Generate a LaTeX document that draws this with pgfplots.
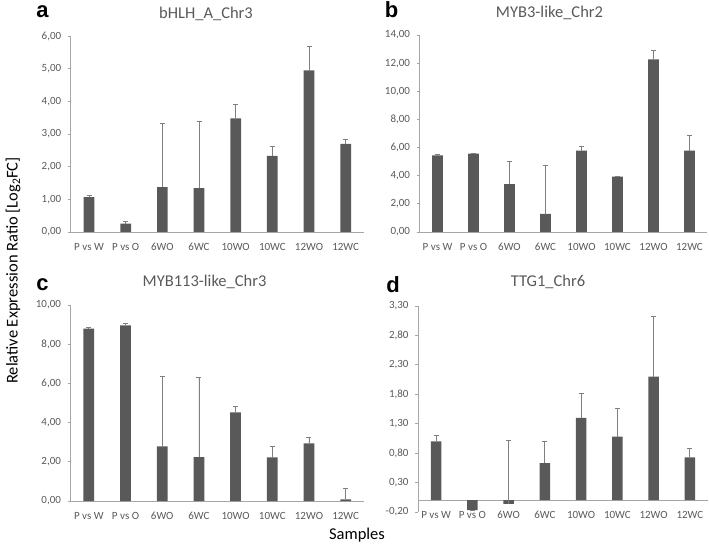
\documentclass[border=0pt]{standalone}
\usepackage{pgfplots}
\pgfplotsset{compat=1.18}
\usepackage{fontspec}
\setmainfont{Carlito}
\newfontfamily\arialfont{Liberation Sans}
\definecolor{bargray}{HTML}{595959}
\definecolor{errgray}{HTML}{7F7F7F}
\definecolor{axgray}{HTML}{A6A6A6}
\definecolor{txtgray}{HTML}{595959}

\pgfplotstableread{
x y e
0 1.07 0.05
1 0.26 0.05
2 1.37 1.94
3 1.34 2.06
4 3.48 0.43
5 2.33 0.29
6 4.95 0.73
7 2.70 0.14
}\dataA
\pgfplotstableread{
x y e
0 5.44 0.05
1 5.57 0.04
2 3.40 1.64
3 1.28 3.43
4 5.79 0.28
5 3.93 0.04
6 12.27 0.66
7 5.79 1.09
}\dataB
\pgfplotstableread{
x y e
0 8.79 0.09
1 8.96 0.10
2 2.79 3.57
3 2.24 4.09
4 4.52 0.31
5 2.23 0.56
6 2.94 0.31
7 0.08 0.57
}\dataC
\pgfplotstableread{
x y e
0 1.00 0.10
1 -0.17 0.00
2 -0.06 1.08
3 0.63 0.37
4 1.40 0.41
5 1.08 0.48
6 2.10 1.03
7 0.73 0.15
}\dataD

\pgfplotsset{
  panel/.style={
    scale only axis,
    anchor=south west,
    ybar, bar width=10.7pt,
    xmin=-0.5, xmax=7.5,
    xtick={0,...,7},
    xticklabels={P vs W, P vs O, 6WO, 6WC, 10WO, 10WC, 12WO, 12WC},
    axis y line*=left,
    axis line style={axgray, line width=0.8pt},
    x tick style={draw=none},
    y tick style={axgray, line width=0.8pt},
    major tick length=3pt,
    tick align=outside,
    ticklabel style={font=\fontsize{11}{13}\selectfont, text=txtgray},
    xticklabel style={yshift=-4.5pt},
    yticklabel style={xshift=-3pt, /pgf/number format/.cd, fixed, fixed zerofill, precision=2, use comma, assume math mode=true},
    clip=false,
  },
  mybar/.style={fill=bargray, draw=none,
    error bars/.cd, y dir=plus, y explicit,
    error bar style={errgray, line width=0.8pt},
    error mark options={rotate=90, errgray, mark size=2.5pt, line width=0.8pt}},
}

\begin{document}
\begin{tikzpicture}
\useasboundingbox (0,0) rectangle (709pt,549pt);

% a
\begin{axis}[panel, axis x line*=bottom, at={(70.7pt,317pt)}, width=293.3pt, height=196pt,
  ymin=0, ymax=6, ytick={0,1,...,6}]
\addplot[mybar] table[x=x, y=y, y error=e] {\dataA};
\end{axis}

% b
\begin{axis}[panel, axis x line*=bottom, at={(419.5pt,317pt)}, width=288pt, height=197pt,
  ymin=0, ymax=14, ytick={0,2,...,14}]
\addplot[mybar] table[x=x, y=y, y error=e] {\dataB};
\end{axis}

% c
\begin{axis}[panel, axis x line*=bottom, at={(70.5pt,48pt)}, width=293.5pt, height=196pt,
  ymin=0, ymax=10, ytick={0,2,...,10}]
\addplot[mybar] table[x=x, y=y, y error=e] {\dataC};
\end{axis}

% d
\begin{axis}[panel, axis x line*=middle, at={(418pt,37pt)}, width=290pt, height=206pt,
  ymin=-0.2, ymax=3.3, ytick={-0.2,0.3,0.8,1.3,1.8,2.3,2.8,3.3}]
\addplot[mybar] table[x=x, y=y, y error=e] {\dataD};
\end{axis}

% titles
\node[text=txtgray, font=\fontsize{16.5}{19}\selectfont] at (206pt,535.5pt) {bHLH\_A\_Chr3};
\node[text=txtgray, font=\fontsize{16.5}{19}\selectfont] at (549.5pt,536pt) {MYB3-like\_Chr2};
\node[text=txtgray, font=\fontsize{16.5}{19}\selectfont] at (204.6pt,267pt) {MYB113-like\_Chr3};
\node[text=txtgray, font=\fontsize{16.5}{19}\selectfont] at (548pt,267pt) {TTG1\_Chr6};

% panel letters
\node[font=\arialfont\bfseries\fontsize{22}{24}\selectfont] at (42.5pt,537pt) {a};
\node[font=\arialfont\bfseries\fontsize{22}{24}\selectfont] at (391.5pt,539pt) {b};
\node[font=\arialfont\bfseries\fontsize{22}{24}\selectfont] at (42.5pt,264pt) {c};
\node[font=\arialfont\bfseries\fontsize{22}{24}\selectfont] at (393pt,264pt) {d};

% axis titles
\node[rotate=90, font=\fontsize{16.5}{19}\selectfont] at (13pt,278.5pt) {Relative Expression Ratio [Log\textsubscript{2}FC]};
\node[font=\fontsize{16.5}{19}\selectfont] at (357pt,14pt) {Samples};
\end{tikzpicture}
\end{document}
